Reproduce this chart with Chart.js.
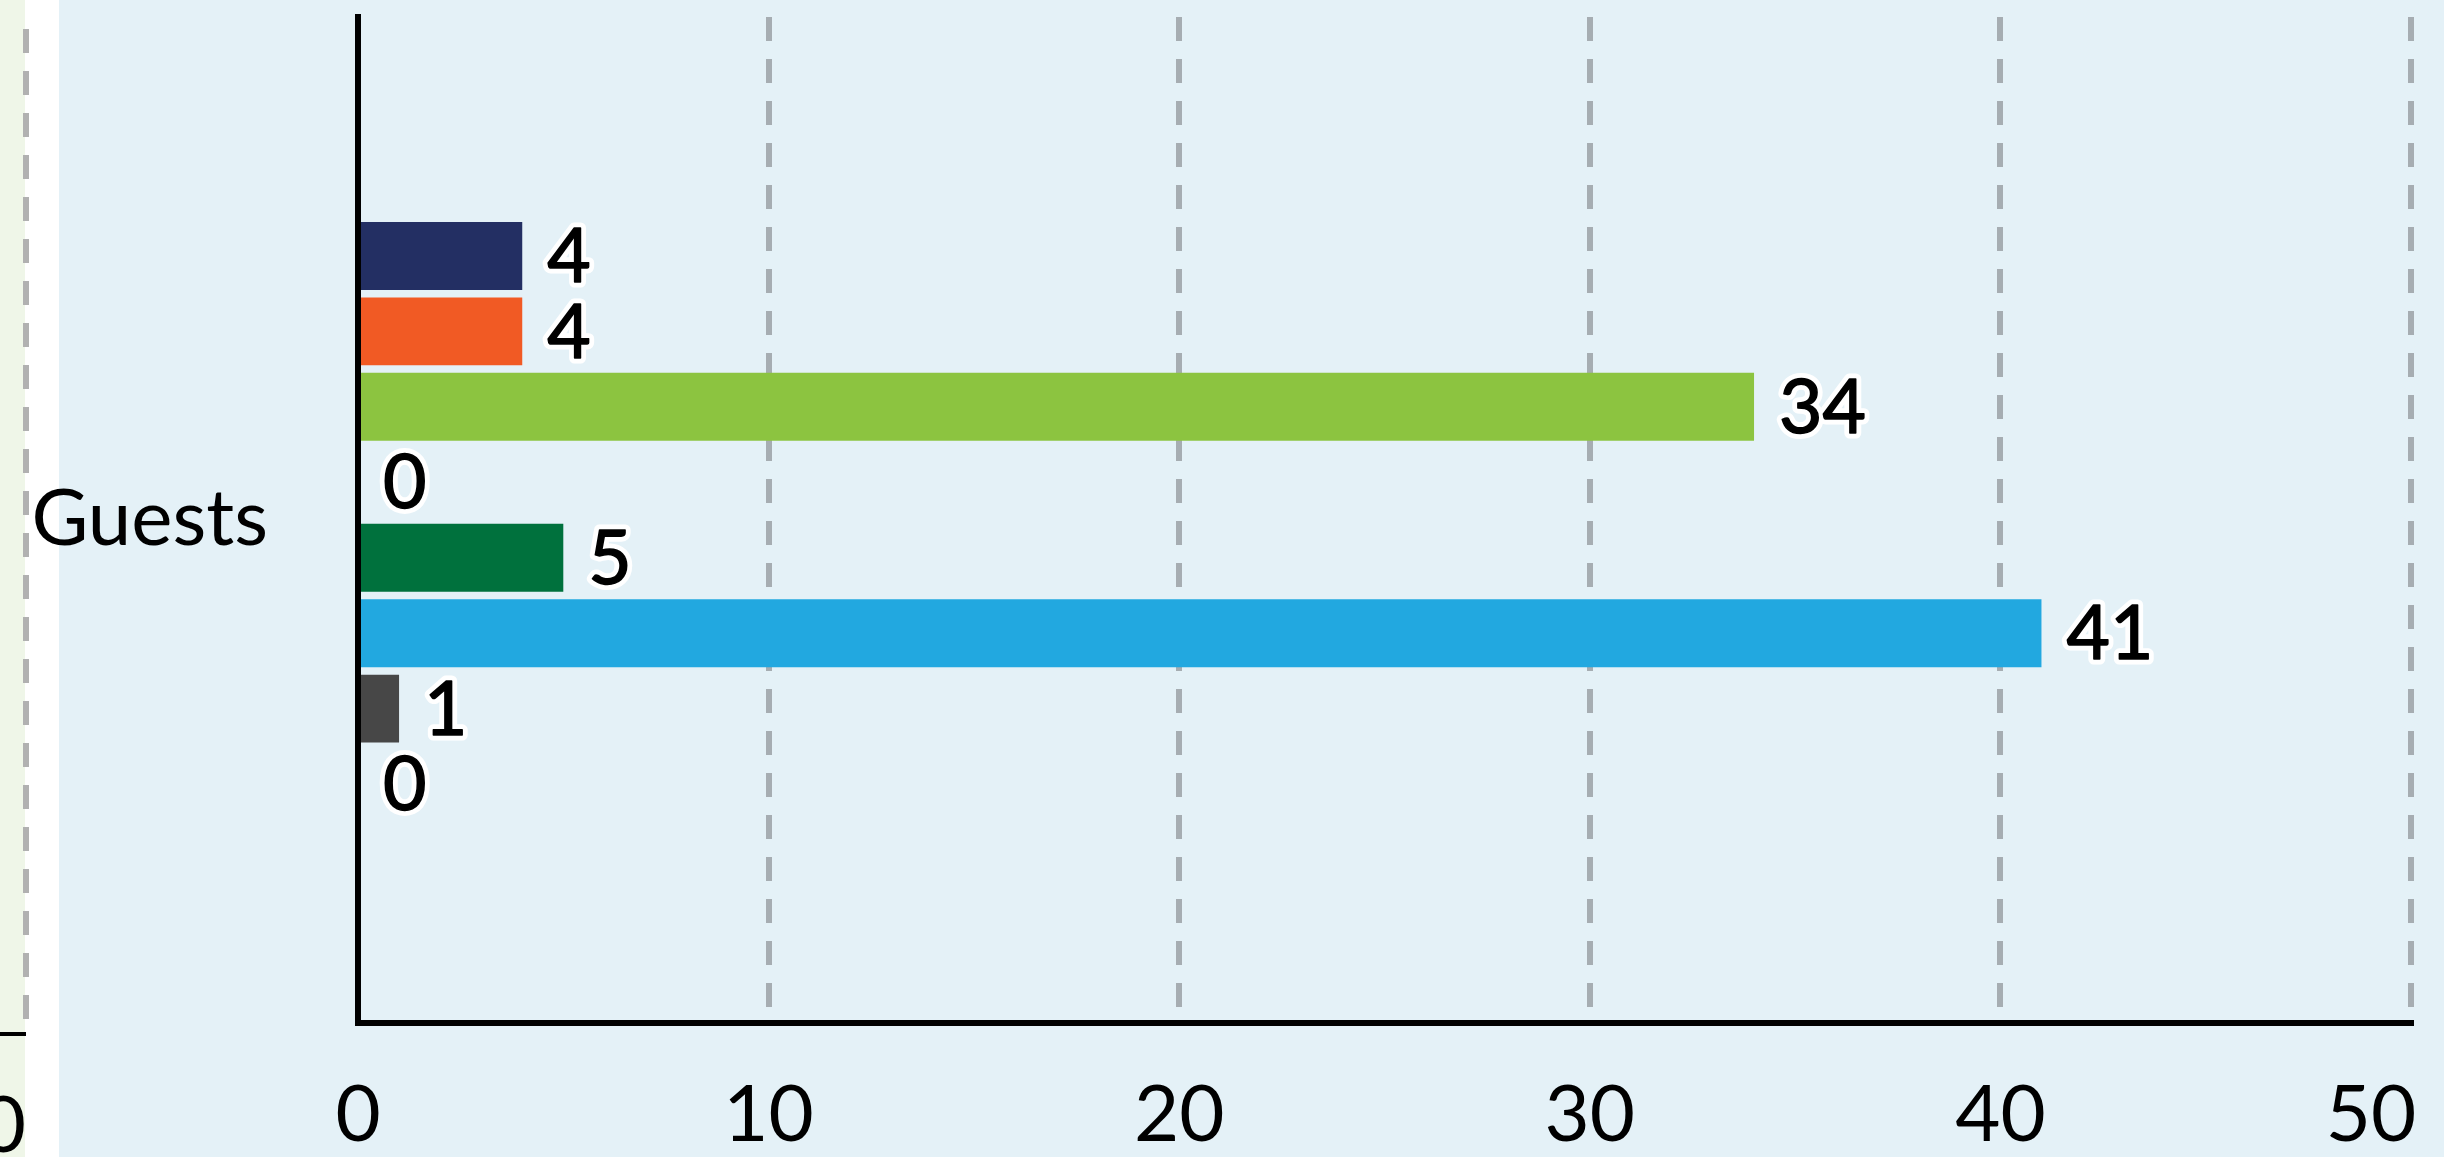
<!DOCTYPE html>
<html>
<head>
<meta charset="utf-8">
<script src="https://cdn.jsdelivr.net/npm/chart.js@4/dist/chart.umd.min.js"></script>
<style>
  html, body { margin: 0; padding: 0; background: #ffffff; overflow: hidden; }
  #stage { position: relative; width: 2444px; height: 1157px; }
  #leftPanel { position: absolute; left: 0; top: 0; width: 25px; height: 1157px; background: #eff6e8; }
  #mainPanel { position: absolute; left: 59px; top: 0; width: 2385px; height: 1157px; background: #e4f1f7; }
  #leftClip { position: absolute; left: 0; top: 0; width: 32px; height: 1157px; overflow: hidden; }
  #leftCanvas { position: absolute; left: -574px; top: 0; }
  #mainCanvas { position: absolute; left: 0; top: 0; }
</style>
</head>
<body>
<div id="stage">
  <div id="leftPanel"></div>
  <div id="mainPanel"></div>
  <div id="leftClip"><canvas id="leftCanvas" width="632" height="1157"></canvas></div>
  <canvas id="mainCanvas" width="2444" height="1157"></canvas>
</div>
<script>
// ---- data ----
const categories = ['Guests'];
const seriesNames = ['Series 1', 'Series 2', 'Series 3', 'Series 4', 'Series 5', 'Series 6', 'Series 7', 'Series 8'];
const seriesValues = [4, 4, 34, 0, 5, 41, 1, 0];
const seriesColors = ['#232f63', '#f15a24', '#8cc440', '#fbb034', '#00713d', '#22a8e0', '#474747', '#9e9e9e'];
const xTickValues = [0, 10, 20, 30, 40, 50];

const FONT = 'Lato';

const valueLabels = {
  id: 'valueLabels',
  afterDatasetsDraw(chart) {
    const ctx = chart.ctx;
    ctx.save();
    ctx.font = 'normal 75px ' + FONT;
    ctx.textAlign = 'left';
    ctx.textBaseline = 'middle';
    ctx.lineJoin = 'round';
    chart.data.datasets.forEach((ds, i) => {
      const meta = chart.getDatasetMeta(i);
      meta.data.forEach((bar, j) => {
        const text = String(ds.data[j]);
        const x = bar.x + 25;
        const y = bar.y + 2;
        ctx.lineWidth = 11;
        ctx.strokeStyle = '#ffffff';
        ctx.strokeText(text, x, y);
        ctx.lineWidth = 1.5;
        ctx.strokeStyle = '#000000';
        ctx.strokeText(text, x, y);
        ctx.fillStyle = '#000000';
        ctx.fillText(text, x, y);
      });
    });
    ctx.restore();
  }
};

function build() {
  Chart.defaults.font.family = FONT;
  Chart.defaults.animation = false;

  // neighbouring panel (only its right edge is visible)
  new Chart(document.getElementById('leftCanvas'), {
    type: 'bar',
    data: { labels: categories, datasets: [] },
    options: {
      responsive: false,
      indexAxis: 'y',
      layout: { padding: { left: 0, right: 32, top: 29, bottom: 0 } },
      plugins: { legend: { display: false }, tooltip: { enabled: false } },
      scales: {
        y: { display: false },
        x: {
          type: 'linear',
          min: xTickValues[0], max: xTickValues[xTickValues.length - 1],
          ticks: { stepSize: 10, align: 'end', padding: 46, color: '#000', font: { size: 78 } },
          grid: {
            drawTicks: false,
            color: (c) => c.index === 0 ? 'rgba(0,0,0,0)' : '#b1b1b1',
            lineWidth: (c) => c.index === 0 ? 0 : 6
          },
          border: { color: '#000', width: 4, dash: [24, 18] },
          afterFit: (s) => { s.height = 1157 - 1034; s.paddingLeft = 0; s.paddingRight = 0; }
        }
      }
    }
  });

  new Chart(document.getElementById('mainCanvas'), {
    type: 'bar',
    data: {
      labels: categories,
      datasets: seriesValues.map((v, i) => ({
        label: seriesNames[i],
        data: [v],
        backgroundColor: seriesColors[i],
        borderWidth: 0,
        categoryPercentage: 0.6,
        barPercentage: 0.9
      }))
    },
    plugins: [valueLabels],
    options: {
      responsive: false,
      indexAxis: 'y',
      layout: { padding: { left: 0, right: 33, top: 17, bottom: 0 } },
      plugins: { legend: { display: false }, tooltip: { enabled: false } },
      scales: {
        x: {
          type: 'linear',
          min: xTickValues[0], max: xTickValues[xTickValues.length - 1],
          ticks: {
            stepSize: 10, padding: 46, color: '#000', font: { size: 78 },
            callback: (v, i, t) => i === t.length - 1 ? String(v) + '    ' : String(v)
          },
          grid: {
            drawTicks: false,
            color: (c) => (c.tick && c.tick.value === 0) ? 'rgba(0,0,0,0)' : '#a6adb2',
            lineWidth: 6
          },
          border: { color: '#000', width: 6, dash: [24, 18] },
          afterFit: (s) => { s.height = 1157 - 1023; s.paddingLeft = 0; s.paddingRight = 0; }
        },
        y: {
          z: 1,
          ticks: { padding: 90, color: '#000', font: { size: 78 } },
          grid: { display: false, drawTicks: false },
          border: { color: '#000', width: 6 },
          afterFit: (s) => { s.width = 358; s.paddingTop = 0; s.paddingBottom = 0; }
        }
      }
    }
  });
}

if (document.fonts && document.fonts.load) {
  Promise.all([
    document.fonts.load('78px ' + FONT),
    document.fonts.load('bold 72px ' + FONT)
  ]).then(build, build);
} else {
  build();
}
</script>
</body>
</html>
